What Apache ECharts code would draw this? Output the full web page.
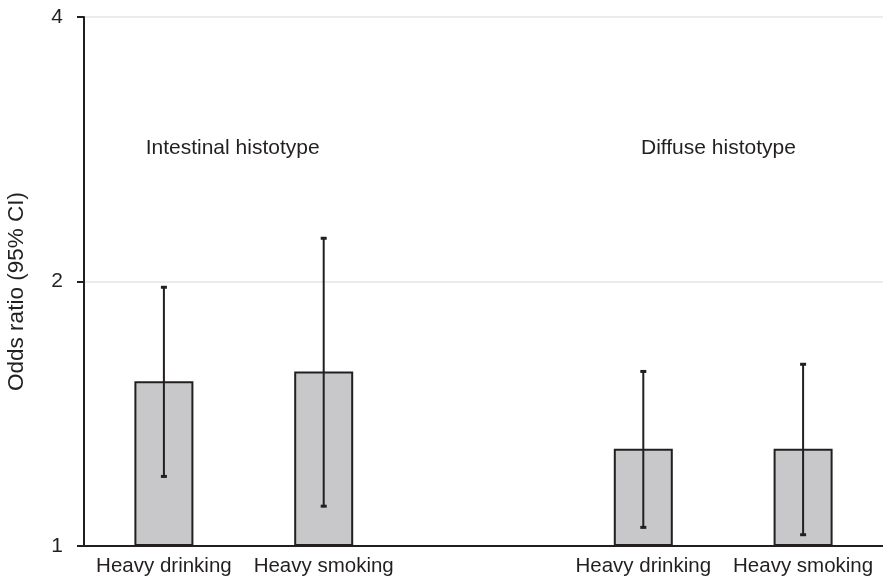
<!DOCTYPE html>
<html>
<head>
<meta charset="utf-8">
<script src="https://cdn.jsdelivr.net/npm/echarts@6/dist/echarts.min.js"></script>
<style>html,body{margin:0;padding:0;background:#fff}#c{width:883px;height:580px}</style>
</head>
<body>
<div id="c"></div>
<script>
var categories = ['Heavy drinking', 'Heavy smoking', '', 'Heavy drinking', 'Heavy smoking'];
var oddsRatio = [1.54, 1.58, null, 1.29, 1.29];
var ciLower = [1.20, 1.11, null, 1.05, 1.03];
var ciUpper = [1.97, 2.24, null, 1.58, 1.61];
var yTicks = [1, 2, 4];
var groupLabels = ['Intestinal histotype', 'Diffuse histotype'];
var groupLabelX = [0.43, 3.47];
var groupLabelY = [2.835, 2.835];

var FONT = '"Liberation Sans", Arial, Helvetica, sans-serif';
var INK = '#231f20';

var errData = [];
for (var i = 0; i < categories.length; i++) {
  if (ciLower[i] != null) errData.push([i, ciLower[i], ciUpper[i]]);
}
var labelData = groupLabels.map(function (t, i) { return [groupLabelX[i], groupLabelY[i], t]; });

var chart = echarts.init(document.getElementById('c'), null, {renderer: 'canvas'});
chart.setOption({
  animation: false,
  backgroundColor: '#fff',
  grid: {left: 84, right: 0, top: 17, bottom: 34, containLabel: false, outerBoundsMode: 'none'},
  xAxis: [{
    type: 'category',
    data: categories,
    boundaryGap: true,
    axisLine: {show: true, lineStyle: {color: INK, width: 2}},
    axisTick: {show: false},
    axisLabel: {color: INK, fontSize: 20.5, fontFamily: FONT, margin: 10, interval: 0},
    splitLine: {show: false}
  }, {
    type: 'value',
    min: -0.5,
    max: 4.5,
    show: false,
    axisLine: {onZero: false}
  }],
  yAxis: {
    type: 'log',
    logBase: 2,
    min: 1,
    max: 4,
    interval: 1,
    name: 'Odds ratio (95% CI)',
    nameLocation: 'middle',
    nameGap: 56,
    nameTextStyle: {color: INK, fontSize: 22.5, fontFamily: FONT, padding: [0, 20, 0, 0]},
    axisLine: {show: true, onZero: false, lineStyle: {color: INK, width: 2}},
    axisTick: {show: true, length: 7, inside: false, lineStyle: {color: INK, width: 2}},
    axisLabel: {color: INK, fontSize: 21, fontFamily: FONT, margin: 21,
      formatter: function (v) { return yTicks.indexOf(Math.round(v)) >= 0 ? String(Math.round(v)) : ''; }},
    splitLine: {show: true, lineStyle: {color: '#e4e4e4', width: 1.5}}
  },
  series: [{
    type: 'bar',
    data: oddsRatio,
    barWidth: 59,
    itemStyle: {color: '#c8c8ca', borderColor: INK, borderWidth: 2},
    z: 2
  }, {
    type: 'custom',
    data: errData,
    encode: {x: 0, y: [1, 2]},
    z: 3,
    renderItem: function (params, api) {
      var x = api.value(0);
      var lo = api.coord([x, api.value(1)]);
      var hi = api.coord([x, api.value(2)]);
      var cap = 3;
      var st = {stroke: INK, lineWidth: 2};
      return {type: 'group', children: [
        {type: 'line', shape: {x1: lo[0], y1: lo[1], x2: hi[0], y2: hi[1]}, style: st},
        {type: 'line', shape: {x1: hi[0] - cap, y1: hi[1], x2: hi[0] + cap, y2: hi[1]}, style: {stroke: INK, lineWidth: 3}},
        {type: 'line', shape: {x1: lo[0] - cap, y1: lo[1], x2: lo[0] + cap, y2: lo[1]}, style: {stroke: INK, lineWidth: 3}}
      ]};
    }
  }, {
    type: 'scatter',
    xAxisIndex: 1,
    data: labelData,
    symbolSize: 0,
    silent: true,
    itemStyle: {opacity: 1, color: 'rgba(0,0,0,0)'},
    label: {show: true, position: 'inside', color: INK, opacity: 1, fontSize: 21, fontFamily: FONT,
      formatter: function (p) { return p.value[2]; }},
    z: 4
  }]
});
</script>
</body>
</html>
